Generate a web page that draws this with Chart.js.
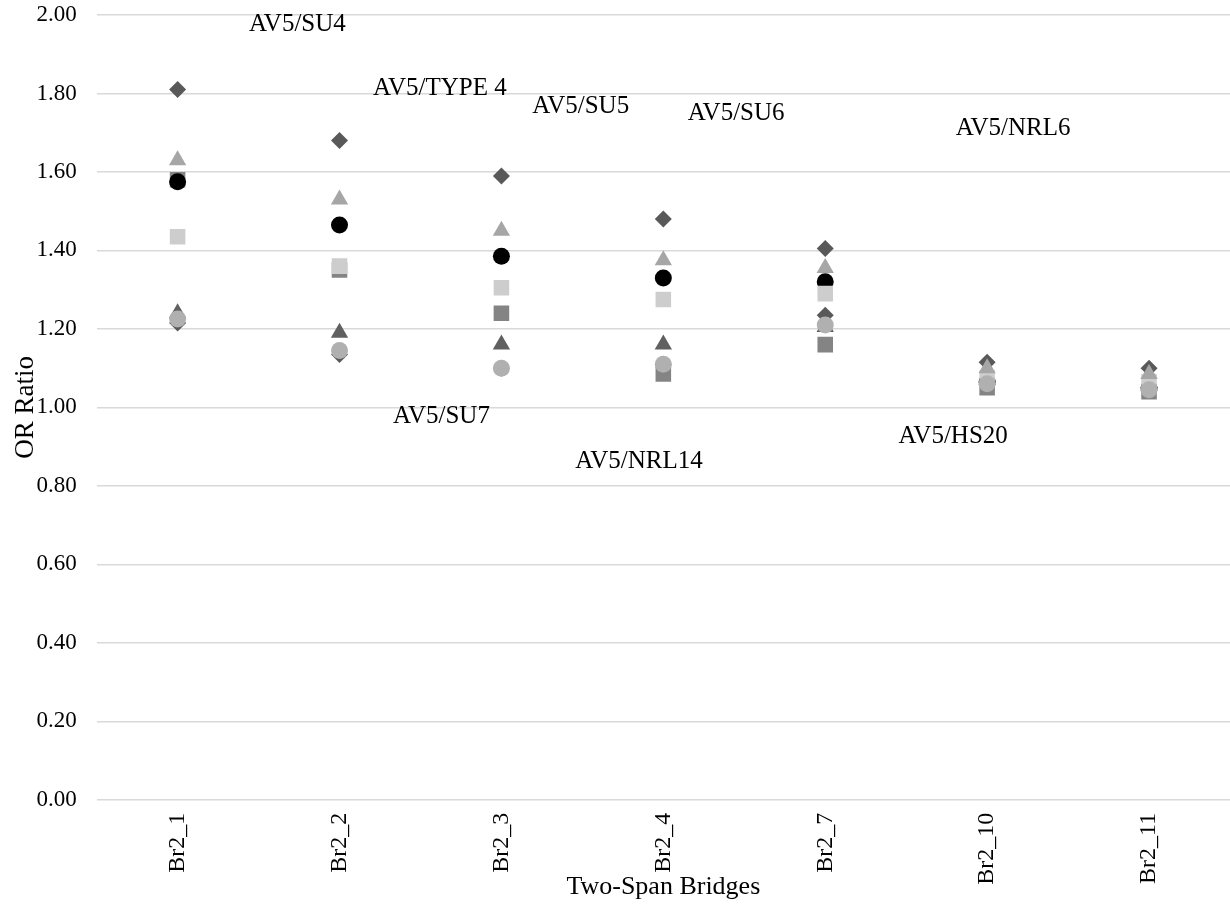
<!DOCTYPE html>
<html>
<head>
<meta charset="utf-8">
<script src="https://cdn.jsdelivr.net/npm/chart.js@4.4.1/dist/chart.umd.min.js"></script>
<style>
  html, body { margin: 0; padding: 0; background: #fff; }
  #wrap { width: 1230px; height: 909px; }
</style>
</head>
<body>
<div id="wrap"><canvas id="myChart"></canvas></div>
<script>
// categories and series values (OR ratio)
const bridges = ['Br2_1', 'Br2_2', 'Br2_3', 'Br2_4', 'Br2_7', 'Br2_10', 'Br2_11'];
const yTicks = [0, 0.2, 0.4, 0.6, 0.8, 1.0, 1.2, 1.4, 1.6, 1.8, 2.0];

const su4   = [1.81, 1.68, 1.59, 1.48, 1.405, 1.115, 1.10];
const type4 = [1.63, 1.53, 1.45, 1.375, 1.355, 1.10, 1.085];
const su5   = [1.575, 1.465, 1.385, 1.33, 1.32, 1.065, 1.05];
const su6   = [1.435, 1.36, 1.305, 1.275, 1.29, 1.075, 1.065];
const nrl6  = [1.58, 1.35, 1.24, 1.085, 1.16, 1.05, 1.04];
const su7   = [1.24, 1.19, 1.16, 1.16, 1.205, 1.07, 1.055];
const nrl14 = [1.225, 1.145, 1.10, 1.11, 1.21, 1.06, 1.045];
const hs20  = [1.215, 1.135, 1.10, 1.11, 1.235, 1.065, 1.05];

// floating series names: text, category position, y value
const seriesNames = ['AV5/SU4', 'AV5/TYPE 4', 'AV5/SU5', 'AV5/SU6', 'AV5/NRL6', 'AV5/SU7', 'AV5/NRL14', 'AV5/HS20'];
const nameX = [0.74, 1.62, 2.49, 3.45, 5.16, 1.63, 2.85, 4.79];
const nameY = [1.975, 1.812, 1.766, 1.75, 1.712, 0.978, 0.863, 0.927];

const serif = "'Liberation Serif', 'Times New Roman', serif";

function series(label, data, style, color, radius, order) {
  return {
    label: label,
    data: data,
    showLine: false,
    pointStyle: style,
    pointRadius: radius,
    pointHoverRadius: radius,
    pointBackgroundColor: color,
    pointBorderColor: color,
    pointBorderWidth: 0,
    borderColor: color,
    backgroundColor: color,
    order: order
  };
}

const nameLabels = {
  id: 'nameLabels',
  afterDatasetsDraw(chart) {
    const ctx = chart.ctx;
    const xs = chart.scales.x;
    const ys = chart.scales.y;
    ctx.save();
    ctx.font = '25px ' + serif;
    ctx.fillStyle = '#000';
    ctx.textAlign = 'center';
    ctx.textBaseline = 'middle';
    seriesNames.forEach((name, i) => {
      const px = xs.getPixelForValue(0) + nameX[i] * (xs.getPixelForValue(1) - xs.getPixelForValue(0));
      ctx.fillText(name, px, ys.getPixelForValue(nameY[i]));
    });
    ctx.restore();
  }
};

const ctx = document.getElementById('myChart').getContext('2d');
const chart = new Chart(ctx, {
  type: 'line',
  data: {
    labels: bridges,
    datasets: [
      series(seriesNames[0], su4, 'rectRot', '#595959', 8.5, 8),
      series(seriesNames[1], type4, 'triangle', '#a6a6a6', 10, 2),
      series(seriesNames[2], su5, 'circle', '#000000', 8.5, 4),
      series(seriesNames[3], su6, 'rect', '#cdcdcd', 11, 3),
      series(seriesNames[4], nrl6, 'rect', '#848484', 11, 5),
      series(seriesNames[5], su7, 'triangle', '#606060', 10, 6),
      series(seriesNames[6], nrl14, 'circle', '#b0b0b0', 8.5, 1),
      series(seriesNames[7], hs20, 'rectRot', '#595959', 8.5, 7)
    ]
  },
  options: {
    responsive: true,
    maintainAspectRatio: false,
    animation: false,
    layout: { autoPadding: false, padding: { left: 6, right: 0, top: 15, bottom: 0 } },
    plugins: {
      legend: { display: false },
      tooltip: { enabled: false }
    },
    scales: {
      x: {
        offset: true,
        grid: { display: false, drawTicks: false },
        border: { display: false },
        ticks: {
          color: '#000',
          font: { family: serif, size: 24 },
          maxRotation: 90,
          minRotation: 90,
          padding: 13
        },
        title: {
          display: true,
          text: 'Two-Span Bridges',
          color: '#000',
          font: { family: serif, size: 26 },
          padding: { top: -26, bottom: 6 }
        }
      },
      y: {
        min: 0,
        max: 2,
        afterBuildTicks: (axis) => { axis.ticks = yTicks.map(v => ({ value: v })); },
        grid: { color: '#d9d9d9', lineWidth: 1.5, drawTicks: true, tickLength: 20, tickColor: 'rgba(0,0,0,0)' },
        border: { display: false },
        ticks: {
          color: '#000',
          font: { family: serif, size: 23 },
          padding: 0,
          callback: (v) => Number(v).toFixed(2)
        },
        title: {
          display: true,
          text: 'OR Ratio',
          color: '#000',
          font: { family: serif, size: 27 },
          padding: { top: 4, bottom: -6 }
        }
      }
    }
  },
  plugins: [nameLabels]
});
</script>
</body>
</html>
